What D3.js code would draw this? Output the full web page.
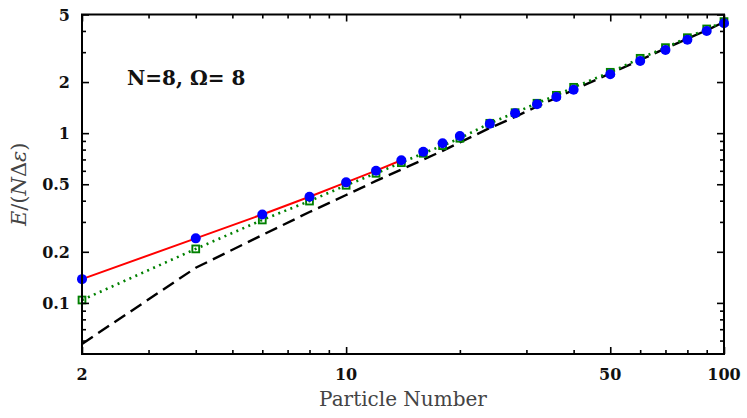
<!DOCTYPE html>
<html><head><meta charset="utf-8">
<script src="https://cdn.jsdelivr.net/npm/d3@7"></script>
<style>body{margin:0;background:#fff} text{font-family:"DejaVu Serif","Liberation Serif",serif}</style>
</head><body>
<svg id="c" width="747" height="418"></svg>
<script>
const xs = [2,4,6,8,10,12,14,16,18,20,24,28,32,36,40,50,60,70,80,90,100];
const exactVals = [0.138,0.240,0.332,0.422,0.513,0.601,0.692,0.777,0.871,0.962,1.137,1.309,1.479,1.633,1.803,2.222,2.661,3.09,3.552,4.0,4.44];
const approxVals = [0.104,0.208,0.308,0.398,0.493,0.580,0.670,0.761,0.844,0.933,1.143,1.32,1.50,1.671,1.862,2.283,2.76,3.19,3.65,4.11,4.54];
const asymVals = [0.0573,0.161,0.251,0.343,0.432,0.523,0.611,0.698,0.787,0.882,1.072,1.248,1.436,1.615,1.798,2.246,2.698,3.157,3.601,4.036,4.517];
const redXs = [2,4,6,8,10,12,14];
const xMajor = [2,10,50,100];
const xMinor = [3,4,5,6,7,8,9,20,30,40,60,70,80,90];
const yMajor = [0.1,0.2,0.5,1,2,5];
const yMinor = [0.06,0.07,0.08,0.09,0.3,0.4,0.6,0.7,0.8,0.9,3,4];
const xLabels = ["2","10","50","100"];
const yLabels = ["0.1","0.2","0.5","1","2","5"];

const L=82,R=724,T=14.5,B=354;
const svg=d3.select("#c");
const x=d3.scaleLog().domain([2,100]).range([L,R]);
const y=d3.scaleLog().domain([0.05,5]).range([B,T]);

const line=d3.line().x(d=>x(d[0])).y(d=>y(d[1]));
const g=svg.append("g");
g.append("path").datum(xs.map((v,i)=>[v,asymVals[i]])).attr("d",line)
 .attr("fill","none").attr("stroke","#000").attr("stroke-width",2.4).attr("stroke-dasharray","13,6.5");
g.append("path").datum(xs.map((v,i)=>[v,approxVals[i]])).attr("d",line)
 .attr("fill","none").attr("stroke","#008000").attr("stroke-width",2.6).attr("stroke-dasharray","2,4.5");
g.append("path").datum(redXs.map(v=>[v,exactVals[xs.indexOf(v)]])).attr("d",line)
 .attr("fill","none").attr("stroke","#ff0000").attr("stroke-width",2);
g.selectAll("rect.sq").data(xs.map((v,i)=>[v,approxVals[i]])).join("rect")
 .attr("x",d=>x(d[0])-3.4).attr("y",d=>y(d[1])-3.4).attr("width",6.8).attr("height",6.8)
 .attr("fill","none").attr("stroke","#008000").attr("stroke-width",1.9);
g.selectAll("circle").data(xs.map((v,i)=>[v,exactVals[i]])).join("circle")
 .attr("cx",d=>x(d[0])).attr("cy",d=>y(d[1])).attr("r",5).attr("fill","#0000ff");

svg.append("rect").attr("x",L).attr("y",T).attr("width",R-L).attr("height",B-T)
 .attr("fill","none").attr("stroke","#000").attr("stroke-width",2);

function ax(gen,tr){ const a=svg.append("g").attr("transform",tr).call(gen); a.select(".domain").remove(); a.selectAll("line").attr("stroke","#000").attr("stroke-width",1.6); a.selectAll("text").remove(); return a;}
ax(d3.axisBottom(x).tickValues(xMajor).tickSizeInner(-7),`translate(0,${B})`);
ax(d3.axisBottom(x).tickValues(xMinor).tickSizeInner(-4),`translate(0,${B})`);
ax(d3.axisTop(x).tickValues(xMajor).tickSizeInner(-7),`translate(0,${T})`);
ax(d3.axisTop(x).tickValues(xMinor).tickSizeInner(-4),`translate(0,${T})`);
ax(d3.axisLeft(y).tickValues(yMajor).tickSizeInner(-7),`translate(${L},0)`);
ax(d3.axisLeft(y).tickValues(yMinor).tickSizeInner(-4),`translate(${L},0)`);
ax(d3.axisRight(y).tickValues(yMajor).tickSizeInner(-7),`translate(${R},0)`);
ax(d3.axisRight(y).tickValues(yMinor).tickSizeInner(-4),`translate(${R},0)`);

svg.selectAll("text.xl").data(xMajor).join("text").attr("class","xl")
 .attr("x",d=>x(d)).attr("y",380).attr("text-anchor","middle")
 .attr("font-weight","bold").attr("font-size",16).attr("fill","#111")
 .text((d,i)=>xLabels[i]);
svg.selectAll("text.yl").data(yMajor).join("text").attr("class","yl")
 .attr("x",70).attr("y",d=>y(d)+6).attr("text-anchor","end")
 .attr("font-weight","bold").attr("font-size",16).attr("fill","#111")
 .text((d,i)=>yLabels[i]);

svg.append("text").attr("x",(L+R)/2).attr("y",406).attr("text-anchor","middle")
 .attr("font-size",20).attr("fill","#444").text("Particle Number");

const yt=svg.append("text").attr("transform",`translate(26,${(T+B)/2}) rotate(-90)`)
 .attr("text-anchor","middle").attr("font-size",21).attr("fill","#444");
yt.append("tspan").attr("font-style","italic").text("E");
yt.append("tspan").text("/(");
yt.append("tspan").attr("font-style","italic").text("N");
yt.append("tspan").text("Δ");
yt.append("tspan").attr("font-style","italic").text("ε");
yt.append("tspan").text(")");

svg.append("text").attr("x",127).attr("y",85).attr("font-weight","bold")
 .attr("font-size",20).attr("fill","#111").text("N=8, Ω= 8");
</script>
</body></html>
